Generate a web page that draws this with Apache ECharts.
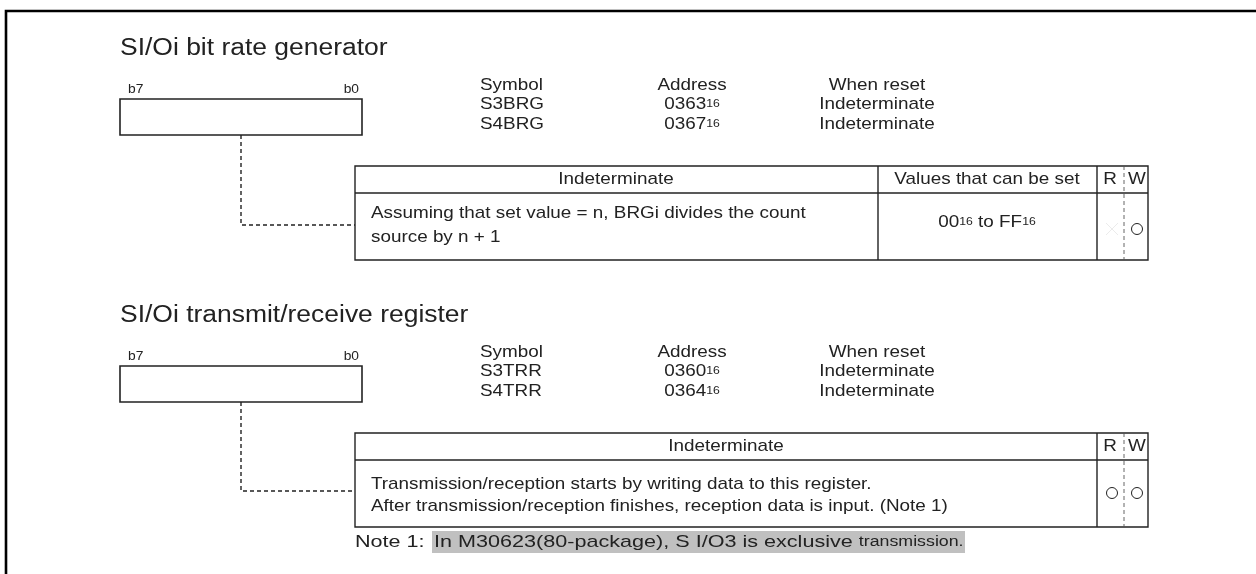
<!DOCTYPE html>
<html>
<head>
<meta charset="utf-8">
<script src="https://cdn.jsdelivr.net/npm/echarts@6/dist/echarts.min.js"></script>
<style>
html,body{margin:0;padding:0;background:#fff;}
#c{width:1256px;height:574px;}
</style>
</head>
<body>
<div id="c"></div>
<script>
// ---- data ----
const titles = ['SI/Oi bit rate generator', 'SI/Oi transmit/receive register'];
const bitLabels = ['b7', 'b0'];
const headerCols = ['Symbol', 'Address', 'When reset'];
const symbols = [['S3BRG', 'S4BRG'], ['S3TRR', 'S4TRR']];
const addresses = [['0363', '0367'], ['0360', '0364']];
const resetValues = [['Indeterminate', 'Indeterminate'], ['Indeterminate', 'Indeterminate']];
const tableHeaders = [['Indeterminate', 'Values that can be set'], ['Indeterminate']];
const descriptions = [
  ['Assuming that set value = n, BRGi divides the count', 'source by n + 1'],
  ['Transmission/reception starts by writing data to this register.', 'After transmission/reception finishes, reception data is input. (Note 1)']
];
const setValues = ['00{s|16} to FF{s|16}'];
const rwFlags = [[false, true], [true, true]];
const noteLabel = 'Note 1:';
const noteText = 'In M30623(80-package), S I/O3 is exclusive ';
const noteTail = 'transmission.';

// ---- drawing ----
const FONT = 'Liberation Sans, Arial, Helvetica, sans-serif';
const INK = '#222';
const SX = 1.11;
const els = [];
function txt(x, y, text, size, align, extra, sx) {
  const st = Object.assign({
    text: text, fontSize: size, fontFamily: FONT, fill: INK,
    align: align || 'left', verticalAlign: 'middle',
    textAlign: align || 'left', textVerticalAlign: 'middle',
    rich: { s: { fontSize: Math.round(size * 0.66), fontFamily: FONT, fill: INK } }
  }, extra || {});
  els.push({ type: 'text', x: x, y: y, scaleX: sx || SX, silent: true, style: st });
}
function line(pts, w, dash, color) {
  els.push({ type: 'polyline', silent: true, shape: { points: pts },
    style: { stroke: color || INK, lineWidth: w || 1.2, fill: null, lineDash: dash || null } });
}
function rect(x, y, w, h, lw, fill, stroke) {
  els.push({ type: 'rect', silent: true, shape: { x: x, y: y, width: w, height: h },
    style: { fill: fill || 'none', stroke: stroke === undefined ? INK : stroke, lineWidth: lw || 1.2 } });
}
function circ(cx, cy, r) {
  els.push({ type: 'circle', silent: true, shape: { cx: cx, cy: cy, r: r },
    style: { fill: 'none', stroke: INK, lineWidth: 1 } });
}

// frame
line([[6, 574], [6, 11], [1256, 11]], 2.6, null, '#000');

const secY = [0, 267];
const TS = 17;
for (let i = 0; i < 2; i++) {
  const o = secY[i];
  txt(120, 49 + o, titles[i], 23, 'left', null, 1.15);
  txt(128, 90 + o, bitLabels[0], 12, 'left', null, 1.15);
  txt(359, 90 + o, bitLabels[1], 12, 'right', null, 1.15);
  rect(120, 99 + o, 242, 36, 1.6);
  // header info
  txt(480, 85 + o, headerCols[0], TS);
  txt(692, 85 + o, headerCols[1], TS, 'center');
  txt(877, 85 + o, headerCols[2], TS, 'center');
  for (let r = 0; r < 2; r++) {
    const yy = 104 + r * 20 + o;
    txt(480, yy, symbols[i][r], TS);
    txt(692, yy, addresses[i][r] + '{s|16}', TS, 'center');
    txt(877, yy, resetValues[i][r], TS, 'center');
  }
  // dashed leader
  line([[241, 135 + o], [241, 225 + o - (i ? 1 : 0)], [355, 225 + o - (i ? 1 : 0)]], 1.4, [4, 3]);
  // table
  const top = 166 + o, hb = 193 + o, bot = 260 + o;
  rect(355, top, 793, bot - top, 1.4);
  line([[355, hb], [1148, hb]], 1.4);
  line([[1097, top], [1097, bot]], 1.4);
  line([[1124, top], [1124, bot]], 0.9, [4, 3], '#555');
  txt(1110, (top + hb) / 2, 'R', TS, 'center');
  txt(1137, (top + hb) / 2, 'W', TS, 'center');
  if (i === 0) {
    line([[878, top], [878, bot]], 1.4);
    txt(616, (top + hb) / 2, tableHeaders[0][0], TS, 'center');
    txt(987, (top + hb) / 2, tableHeaders[0][1], TS, 'center');
    txt(371, 213 + o, descriptions[0][0], TS);
    txt(371, 237 + o, descriptions[0][1], TS);
    txt(987, 222 + o, setValues[0], TS, 'center');
  } else {
    txt(726, (top + hb) / 2, tableHeaders[1][0], TS, 'center');
    txt(371, 484 - 267 + o, descriptions[1][0], TS);
    txt(371, 506 - 267 + o, descriptions[1][1], TS);
  }
  const cy = i ? 493 : 229;
  if (rwFlags[i][0]) circ(1112, cy, 5.5);
  else {
    line([[1106, cy - 6], [1118, cy + 6]], 0.8, null, '#e6e6e6');
    line([[1106, cy + 6], [1118, cy - 6]], 0.8, null, '#e6e6e6');
  }
  if (rwFlags[i][1]) circ(1137, cy, 5.5);
}

// note
rect(432, 531, 533, 22, 0, '#c0c0c0', 'none');
txt(355, 542, noteLabel, TS, 'left', null, 1.27);
txt(434, 542, noteText + '{t|' + noteTail + '}', TS, 'left', {
  rich: { t: { fontSize: 14, fontFamily: FONT, fill: INK } }
}, 1.27);

const chart = echarts.init(document.getElementById('c'), null, { renderer: 'canvas' });
chart.setOption({
  backgroundColor: '#fff',
  animation: false,
  graphic: { elements: els }
});
</script>
</body>
</html>
